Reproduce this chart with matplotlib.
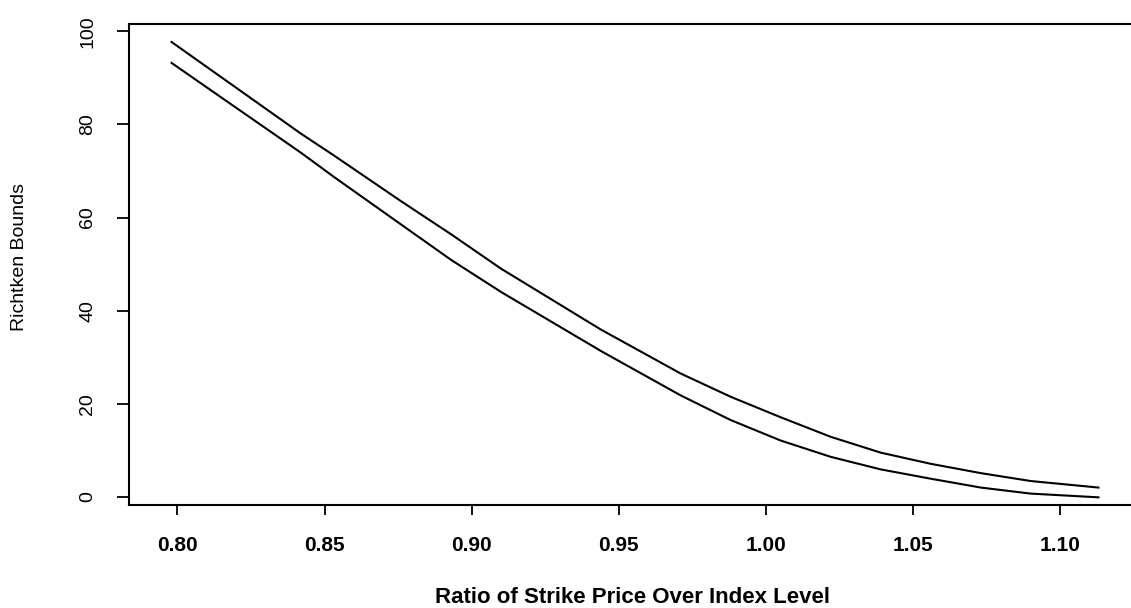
import matplotlib.pyplot as plt

# values
ratio = [0.798, 0.842, 0.853, 0.876, 0.893, 0.910, 0.944, 0.971, 0.988,
         1.005, 1.022, 1.039, 1.056, 1.073, 1.090, 1.113]
upper_bound = [97.7, 78.0, 73.4, 63.5, 56.4, 49.0, 35.9, 26.5, 21.5,
               17.1, 12.9, 9.5, 7.1, 5.1, 3.4, 2.0]
lower_bound = [93.2, 73.9, 68.8, 58.5, 50.9, 44.0, 31.3, 21.8, 16.5,
               12.1, 8.6, 5.9, 3.9, 2.0, 0.7, -0.1]

x_ticks = [0.80, 0.85, 0.90, 0.95, 1.00, 1.05, 1.10]
x_ticklabels = ["0.80", "0.85", "0.90", "0.95", "1.00", "1.05", "1.10"]
y_ticks = [0, 20, 40, 60, 80, 100]
y_ticklabels = ["0", "20", "40", "60", "80", "100"]

plt.rcParams["font.family"] = ["Liberation Sans", "DejaVu Sans"]

fig = plt.figure(figsize=(11.31, 6.08), dpi=100)
ax = fig.add_axes([0.114, 0.169, 0.89, 0.791])

ax.plot(ratio, upper_bound, color="black", linewidth=1.5)
ax.plot(ratio, lower_bound, color="black", linewidth=1.5)

ax.set_xlim(0.7835, 1.1256)
ax.set_ylim(-1.8, 101.5)

ax.set_xticks(x_ticks)
ax.set_xticklabels(x_ticklabels, fontsize=15, fontweight="bold")
ax.set_yticks(y_ticks)
ax.set_yticklabels(y_ticklabels, fontsize=14, rotation=90, va="center")

ax.tick_params(axis="x", direction="out", length=7, width=1.3, pad=15)
ax.tick_params(axis="y", direction="out", length=8.5, width=1.3, pad=15)

for side in ["left", "bottom", "top"]:
    ax.spines[side].set_linewidth(1.5)
ax.spines["right"].set_visible(False)

ax.set_xlabel("Ratio of Strike Price Over Index Level", fontsize=16, fontweight="bold")
ax.xaxis.set_label_coords(0.5, -0.17)
ax.set_ylabel("Richtken Bounds", fontsize=14)
ax.yaxis.set_label_coords(-0.100, 0.516)

fig.savefig("out.png", dpi=100)
